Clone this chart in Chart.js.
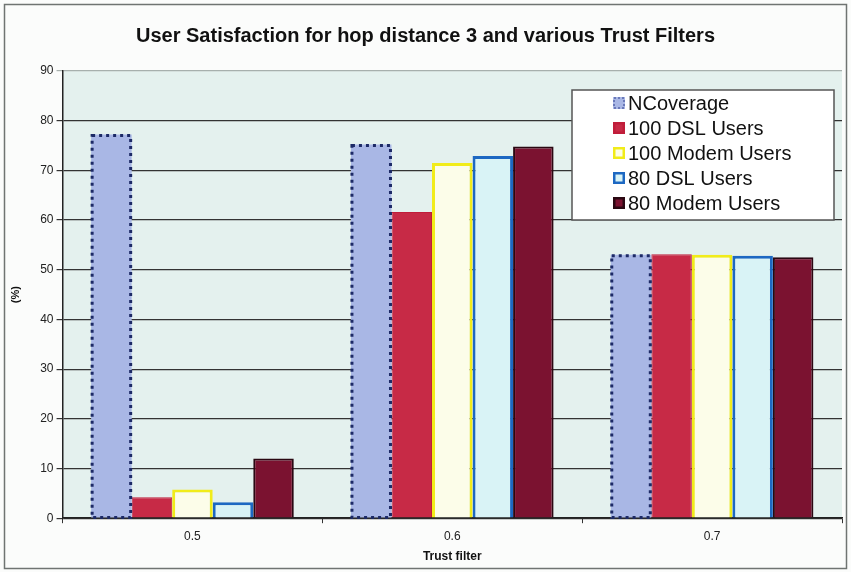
<!DOCTYPE html>
<html lang="en">
<head>
  <meta charset="UTF-8" />
  <title>User Satisfaction - Trust Filters</title>
  <script src="https://cdn.jsdelivr.net/npm/chart.js"></script>
  <style>
    html, body { margin: 0; padding: 0; background: #fff; }
    #wrap { width: 851px; height: 572px; position: relative; }
  </style>
</head>
<body>
<div id="wrap"><canvas id="chart" width="851" height="572"></canvas></div>

<script>
  const trustFilters = ["0.5", "0.6", "0.7"];
  const nCoverage   = [77.2, 75.2, 53.0];
  const dsl100      = [4.2, 61.6, 53.1];
  const modem100    = [5.8, 71.5, 53.0];
  const dsl80       = [3.2, 72.9, 52.8];
  const modem80     = [12.0, 74.8, 52.5];
  const yTicks      = [0, 10, 20, 30, 40, 50, 60, 70, 80, 90];

  const FONT = "'Liberation Sans', Arial, sans-serif";

  // page frame + light plot background
  const backdrop = {
    id: "backdrop",
    beforeDraw(chart) {
      const { ctx, chartArea: a } = chart;
      ctx.save();
      ctx.fillStyle = "#fbfcfb";
      ctx.fillRect(0, 0, chart.width, chart.height);
      ctx.strokeStyle = "#6f7472";
      ctx.lineWidth = 1.5;
      ctx.strokeRect(4.5, 4.5, chart.width - 9, chart.height - 8);
      ctx.fillStyle = "#e4f1ee";
      ctx.fillRect(a.left, a.top, a.right - a.left, a.bottom - a.top);
      ctx.restore();
    }
  };

  // dotted outline for the NCoverage bars
  const dottedBars = {
    id: "dottedBars",
    afterDatasetsDraw(chart) {
      const meta = chart.getDatasetMeta(0);
      const ctx = chart.ctx;
      ctx.save();
      ctx.strokeStyle = "#1d2a66";
      ctx.lineWidth = 3;
      ctx.setLineDash([3, 4]);
      meta.data.forEach(el => {
        const p = el.getProps(["x", "y", "base", "width"], true);
        const left = p.x - p.width / 2;
        ctx.strokeRect(left + 1, p.y + 1, p.width - 2, p.base - p.y - 1);
      });
      ctx.restore();
    }
  };

  // boxed legend in the upper right of the plot
  const boxLegend = {
    id: "boxLegend",
    afterDraw(chart) {
      const { ctx, chartArea: a } = chart;
      const right = a.right - 8, top = a.top + 19;
      const w = 262, h = 130;
      const left = right - w;
      ctx.save();
      ctx.fillStyle = "#ffffff";
      ctx.fillRect(left, top, w, h);
      ctx.strokeStyle = "#555";
      ctx.lineWidth = 1.5;
      ctx.strokeRect(left, top, w, h);
      ctx.font = "20px " + FONT;
      ctx.textBaseline = "middle";
      chart.data.datasets.forEach((ds, i) => {
        const cy = top + 13 + i * 25;
        const mx = left + 41, my = cy - 6;
        ctx.fillStyle = ds.backgroundColor;
        ctx.fillRect(mx, my, 12, 12);
        if (i === 0) {
          ctx.strokeStyle = "#5566aa";
          ctx.lineWidth = 1.5;
          ctx.setLineDash([2, 2]);
          ctx.strokeRect(mx + 1, my + 1, 10, 10);
          ctx.setLineDash([]);
        } else {
          ctx.strokeStyle = ds.borderColor;
          ctx.lineWidth = 2.5;
          ctx.strokeRect(mx + 1.25, my + 1.25, 9.5, 9.5);
        }
        ctx.fillStyle = "#111";
        ctx.fillText(ds.label, left + 56, cy + 1);
      });
      ctx.restore();
    }
  };

  new Chart(document.getElementById("chart").getContext("2d"), {
    type: "bar",
    data: {
      labels: trustFilters,
      datasets: [
        { label: "NCoverage", data: nCoverage, backgroundColor: "#a9b7e5", borderColor: "#1d2a66", borderWidth: 0 },
        { label: "100 DSL Users", data: dsl100, backgroundColor: "#c72a46", borderColor: "#c01d3a", borderWidth: 1 },
        { label: "100 Modem Users", data: modem100, backgroundColor: "#fcfde9", borderColor: "#f1ec1a", borderWidth: 3 },
        { label: "80 DSL Users", data: dsl80, backgroundColor: "#d9f3f6", borderColor: "#1d68c2", borderWidth: 3 },
        { label: "80 Modem Users", data: modem80, backgroundColor: "#7b1230", borderColor: "#2a0812", borderWidth: 2 }
      ]
    },
    options: {
      responsive: false,
      animation: false,
      datasets: { bar: { categoryPercentage: 0.78, barPercentage: 1.0 } },
      layout: { padding: { top: 8, left: 9, right: 9, bottom: 8 } },
      plugins: {
        legend: { display: false },
        tooltip: { enabled: false },
        title: {
          display: true,
          text: "User Satisfaction for hop distance 3 and various Trust Filters",
          color: "#111",
          font: { family: FONT, size: 20, weight: "bold" },
          padding: { top: 16, bottom: 23 }
        }
      },
      scales: {
        x: {
          grid: { drawOnChartArea: false, tickLength: 5, color: "#333", offset: true },
          border: { display: true, color: "#222", width: 1.5 },
          ticks: { color: "#222", font: { family: FONT, size: 12 }, padding: 6 },
          title: {
            display: true, text: "Trust filter", color: "#111",
            font: { family: FONT, size: 12, weight: "bold" }, padding: { top: 0, bottom: 0 }
          }
        },
        y: {
          min: 0, max: 90,
          afterBuildTicks(scale) { scale.ticks = yTicks.map(v => ({ value: v })); },
          grid: {
            color: ctx => (ctx.tick && ctx.tick.value === 90 ? "#a7b0ad" : "#333"),
            lineWidth: 1.2,
            tickLength: 6
          },
          border: { display: true, color: "#222", width: 1.5 },
          ticks: { color: "#222", font: { family: FONT, size: 12 }, padding: 3 },
          title: {
            display: true, text: "(%)", color: "#111",
            font: { family: FONT, size: 11, weight: "bold" }, padding: { top: 0, bottom: 15 }
          }
        }
      }
    },
    plugins: [backdrop, dottedBars, boxLegend]
  });
</script>
</body>
</html>
